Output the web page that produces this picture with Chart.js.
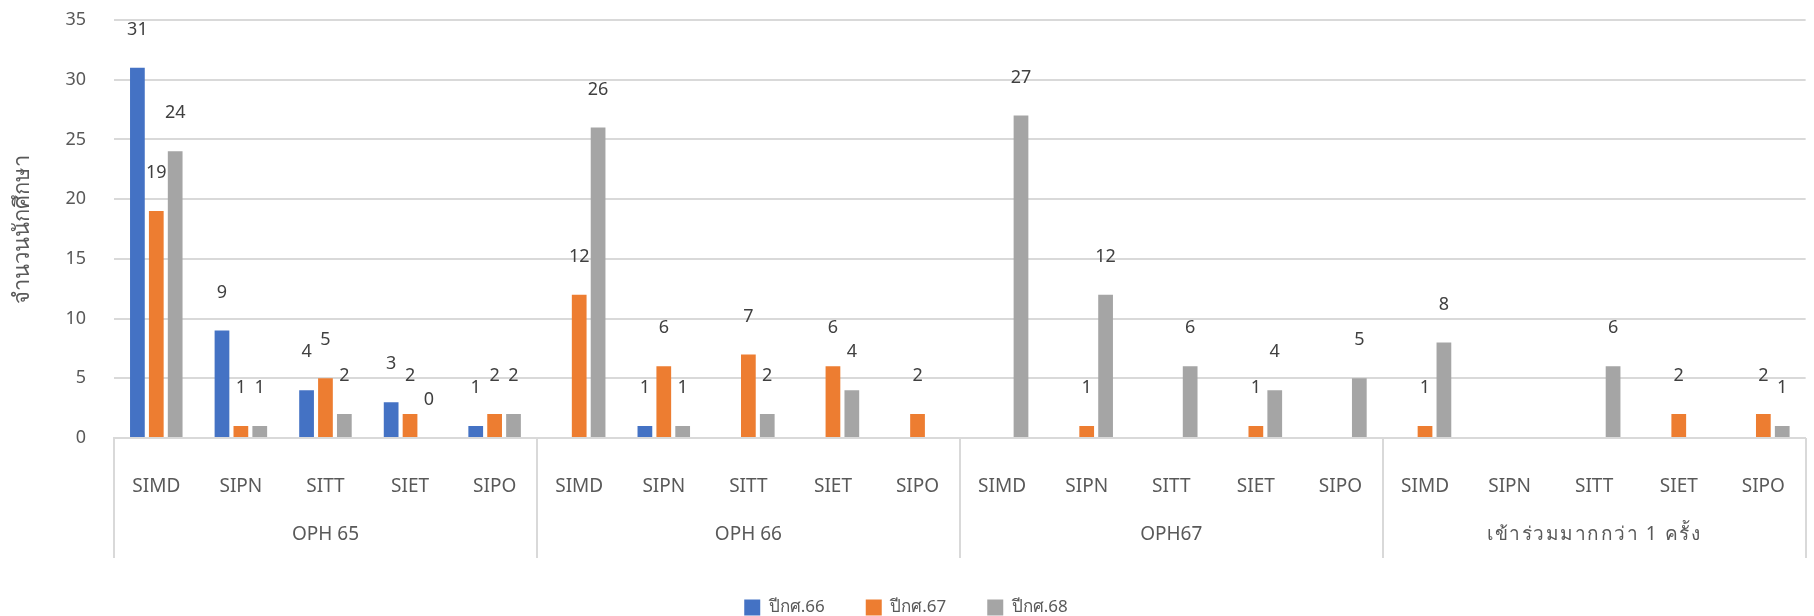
<!DOCTYPE html>
<html>
<head>
<meta charset="utf-8">
<script src="https://cdn.jsdelivr.net/npm/chart.js@4.4.1/dist/chart.umd.min.js"></script>
<style>
    body { margin: 0; background: #ffffff; }
    .wrap { width: 1814px; height: 616px; position: relative; }
</style>
</head>
<body>
<div class="wrap"><canvas id="oph_chart"></canvas></div>
<script>
// categories
const groups = ["OPH 65", "OPH 66", "OPH67", "เข้าร่วมมากกว่า 1 ครั้ง"];
const programs = ["SIMD", "SIPN", "SITT", "SIET", "SIPO"];
const yTicks = [0, 5, 10, 15, 20, 25, 30, 35];

// series (null = no bar, no label)
const year66 = [31, 9, 4, 3, 1,  null, 1, null, null, null,  null, null, null, null, null,  null, null, null, null, null];
const year67 = [19, 1, 5, 2, 2,  12, 6, 7, 6, 2,  null, 1, null, 1, null,  1, null, null, 2, 2];
const year68 = [24, 1, 2, 0, 2,  26, 1, 2, 4, null,  27, 12, 6, 4, 5,  8, null, 6, null, 1];

const labels = [];
groups.forEach(() => programs.forEach(p => labels.push(p)));

const FONT = "'Noto Sans', 'DejaVu Sans', sans-serif";
const GREY_TXT = "#595959";
const GRID = "#d9d9d9";
const LEGEND_PAD = 41;
const LEGEND_FONT = 17;

Chart.defaults.font.family = FONT;
Chart.defaults.color = GREY_TXT;

/* value labels above each bar */
const valueLabels = {
    id: 'valueLabels',
    afterDatasetsDraw(chart) {
        const ctx = chart.ctx;
        ctx.save();
        ctx.font = "18px " + FONT;
        ctx.fillStyle = "#404040";
        ctx.textAlign = "center";
        ctx.textBaseline = "middle";
        chart.data.datasets.forEach((ds, di) => {
            const meta = chart.getDatasetMeta(di);
            meta.data.forEach((bar, i) => {
                if (ds.data[i] === null) return;
                ctx.fillText(String(ds.data[i]), bar.x, bar.y - 38);
            });
        });
        ctx.restore();
    }
};

/* second row of the x axis: group names + separators */
const groupAxis = {
    id: 'groupAxis',
    afterDraw(chart) {
        const ctx = chart.ctx;
        const x = chart.scales.x;
        const area = chart.chartArea;
        const step = x.getPixelForValue(1) - x.getPixelForValue(0);
        const n = programs.length;
        ctx.save();
        ctx.strokeStyle = GRID;
        ctx.lineWidth = 2;
        for (let g = 0; g <= groups.length; g++) {
            const px = Math.round(x.getPixelForValue(g * n) - step / 2);
            ctx.beginPath();
            ctx.moveTo(px, area.bottom);
            ctx.lineTo(px, 558);
            ctx.stroke();
        }
        ctx.font = "19px " + FONT;
        ctx.fillStyle = GREY_TXT;
        ctx.textAlign = "center";
        ctx.textBaseline = "middle";
        groups.forEach((name, g) => {
            const a = x.getPixelForValue(g * n) - step / 2;
            const b = x.getPixelForValue(g * n + n - 1) + step / 2;
            // thai text is set wider in the original
            ctx.letterSpacing = /[\u0E00-\u0E7F]/.test(name) ? "1.5px" : "0px";
            ctx.fillText(name, (a + b) / 2, 535);
        });
        ctx.restore();
    }
};

new Chart(document.getElementById('oph_chart'), {
    type: 'bar',
    data: {
        labels: labels,
        datasets: [
            { label: 'ปีกศ.66', data: year66, backgroundColor: '#4472C4' },
            { label: 'ปีกศ.67', data: year67, backgroundColor: '#ED7D31' },
            { label: 'ปีกศ.68', data: year68, backgroundColor: '#A5A5A5' }
        ]
    },
    options: {
        responsive: true,
        maintainAspectRatio: false,
        animation: false,
        categoryPercentage: 0.67,
        barPercentage: 0.78,
        layout: { padding: { top: 0, right: 2, left: 0, bottom: -10 } },
        plugins: {
            tooltip: { enabled: false },
            legend: {
                position: 'bottom',
                labels: {
                    boxWidth: 16,
                    boxHeight: 16,
                    padding: LEGEND_PAD,
                    color: GREY_TXT,
                    font: { size: LEGEND_FONT }
                }
            }
        },
        scales: {
            x: {
                grid: { display: false },
                border: { display: true, color: GRID, width: 2 },
                ticks: {
                    autoSkip: false,
                    maxRotation: 0,
                    padding: 29,
                    color: GREY_TXT,
                    font: { size: 19 }
                },
                // keep the plot bottom fixed when the legend padding changes
                afterFit: s => { s.height = 126 - (LEGEND_PAD - 35); }
            },
            y: {
                min: 0,
                max: 35,
                afterBuildTicks: s => { s.ticks = yTicks.map(v => ({ value: v })); },
                grid: { color: GRID, lineWidth: 2, drawTicks: false },
                border: { display: false },
                ticks: { padding: 28, color: GREY_TXT, font: { size: 18 } },
                title: {
                    display: true,
                    text: 'จำนวนนักศึกษา',
                    color: GREY_TXT,
                    font: { size: 22 },
                    padding: { top: 10, bottom: 0 }
                },
                afterFit: s => {
                    s.width = 114;
                    s.paddingTop = 20;
                    s.paddingBottom = 0;
                }
            }
        }
    },
    plugins: [valueLabels, groupAxis]
});
</script>
</body>
</html>
